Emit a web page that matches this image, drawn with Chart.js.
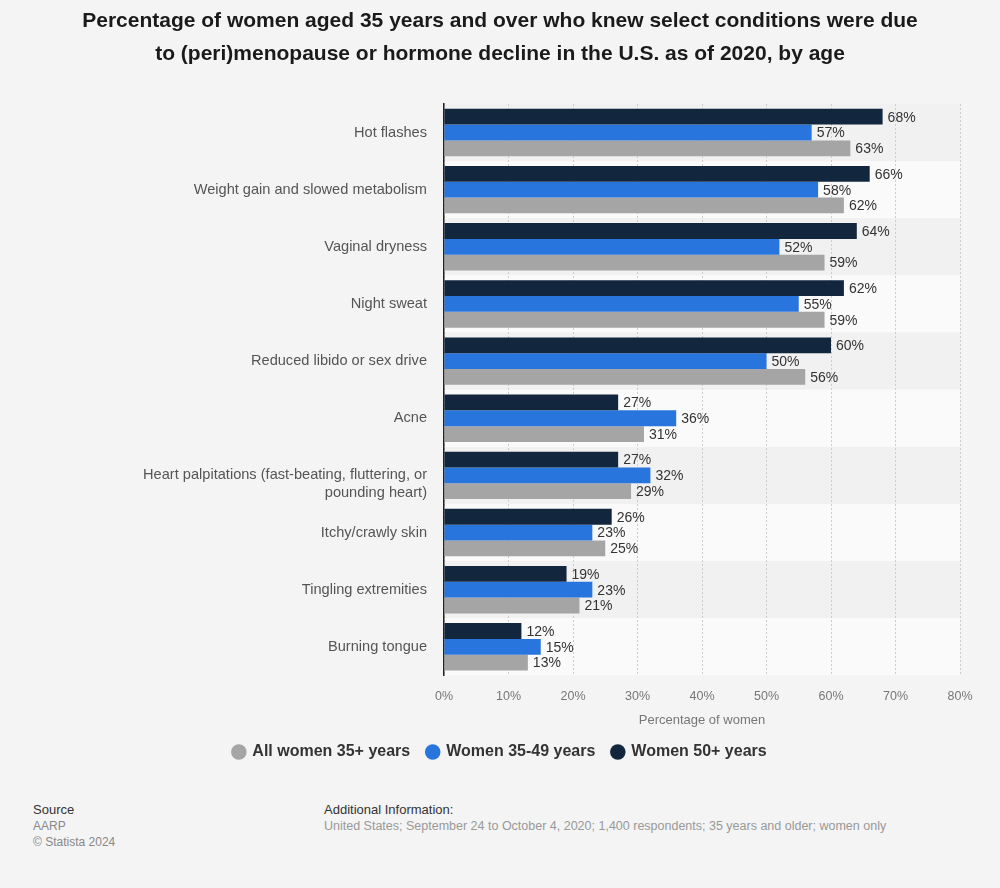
<!DOCTYPE html>
<html>
<head>
<meta charset="utf-8">
<script src="https://cdn.jsdelivr.net/npm/chart.js@4"></script>
<style>
  body { margin: 0; background: #f4f4f4; font-family: 'Liberation Sans', Arial, sans-serif; }
  #wrap { position: relative; width: 1000px; height: 776px; }
  .foot { position: absolute; font-size: 13px; line-height: 16px; }
  .foot .h { color: #333; }
  .foot .m { color: #888; font-size: 12px; }
</style>
</head>
<body>
<div id="wrap"><canvas id="chart"></canvas></div>
<div class="foot" style="left:33px; top:802px;">
  <div class="h">Source</div>
  <div class="m">AARP</div>
  <div class="m">© Statista 2024</div>
</div>
<div class="foot" style="left:324px; top:802px;">
  <div class="h">Additional Information:</div>
  <div class="m" style="color:#999; font-size:12.5px">United States; September 24 to October 4, 2020; 1,400 respondents; 35 years and older; women only</div>
</div>

<script>
const categories = [
  'Hot flashes',
  'Weight gain and slowed metabolism',
  'Vaginal dryness',
  'Night sweat',
  'Reduced libido or sex drive',
  'Acne',
  ['', 'Heart palpitations (fast-beating, fluttering, or', 'pounding heart)'],
  'Itchy/crawly skin',
  'Tingling extremities',
  'Burning tongue'
];
const women50plus  = [68, 66, 64, 62, 60, 27, 27, 26, 19, 12];
const women35to49  = [57, 58, 52, 55, 50, 36, 32, 23, 23, 15];
const allWomen35   = [63, 62, 59, 59, 56, 31, 29, 25, 21, 13];
const xTicks       = [0, 10, 20, 30, 40, 50, 60, 70, 80];

const FONT = "'Liberation Sans', Arial, sans-serif";

// alternating row bands, drawn before the grid
const bands = {
  id: 'bands',
  beforeDraw(chart) {
    const { ctx, chartArea, scales: { y } } = chart;
    const step = (chartArea.bottom - chartArea.top) / categories.length;
    ctx.save();
    categories.forEach((c, i) => {
      const mid = y.getPixelForValue(i);
      ctx.fillStyle = i % 2 === 0 ? '#f1f1f1' : '#fafafa';
      ctx.fillRect(chartArea.left, mid - step / 2, chartArea.right - chartArea.left, step);
    });
    ctx.restore();
  }
};

// value labels at bar ends
const valueLabels = {
  id: 'valueLabels',
  afterDatasetsDraw(chart) {
    const { ctx } = chart;
    ctx.save();
    ctx.font = `14px ${FONT}`;
    ctx.fillStyle = '#333';
    ctx.textBaseline = 'middle';
    chart.data.datasets.forEach((ds, di) => {
      chart.getDatasetMeta(di).data.forEach((bar, i) => {
        ctx.fillText(ds.data[i] + '%', bar.x + 5, bar.y + 1);
      });
    });
    ctx.restore();
  }
};

new Chart(document.getElementById('chart'), {
  type: 'bar',
  data: {
    labels: categories,
    datasets: [
      { label: 'Women 50+ years',     data: women50plus, backgroundColor: '#12263e' },
      { label: 'Women 35-49 years',   data: women35to49, backgroundColor: '#2876dd' },
      { label: 'All women 35+ years', data: allWomen35,  backgroundColor: '#a5a5a5' }
    ]
  },
  options: {
    indexAxis: 'y',
    responsive: true,
    maintainAspectRatio: false,
    animation: false,
    datasets: { bar: { categoryPercentage: 0.83, barPercentage: 1.0 } },
    layout: { padding: { left: 40, right: 40, top: 0, bottom: 6 } },
    scales: {
      x: {
        min: 0, max: 80,
        afterBuildTicks: s => { s.ticks = xTicks.map(v => ({ value: v })); },
        grid: { color: '#cccccc', drawTicks: false, lineWidth: 1 },
        border: { display: false, dash: [2, 2] },
        ticks: { padding: 14, color: '#777', font: { family: FONT, size: 12.5 }, callback: v => v + '%' },
        title: { display: true, text: 'Percentage of women', color: '#777', font: { family: FONT, size: 13 }, padding: { top: -6, bottom: -1 } }
      },
      y: {
        afterFit: s => { s.width = 404; },
        grid: { display: false, drawTicks: false },
        border: { display: true, color: '#222', width: 1.5 },
        ticks: { padding: 17, color: '#555', font: { family: FONT, size: 14.6 } }
      }
    },
    plugins: {
      title: {
        display: true,
        text: ['Percentage of women aged 35 years and over who knew select conditions were due',
               'to (peri)menopause or hormone decline in the U.S. as of 2020, by age'],
        color: '#1a1a1a',
        font: { family: FONT, size: 21, weight: 'bold', lineHeight: 1.57 },
        padding: { top: 5, bottom: 33 }
      },
      legend: {
        position: 'bottom',
        reverse: true,
        labels: {
          usePointStyle: true, pointStyle: 'circle', boxWidth: 11, boxHeight: 11,
          padding: 17, color: '#333', font: { family: FONT, size: 16, weight: 'bold' }
        }
      },
      tooltip: { enabled: false }
    }
  },
  plugins: [bands, valueLabels]
});
</script>
</body>
</html>
